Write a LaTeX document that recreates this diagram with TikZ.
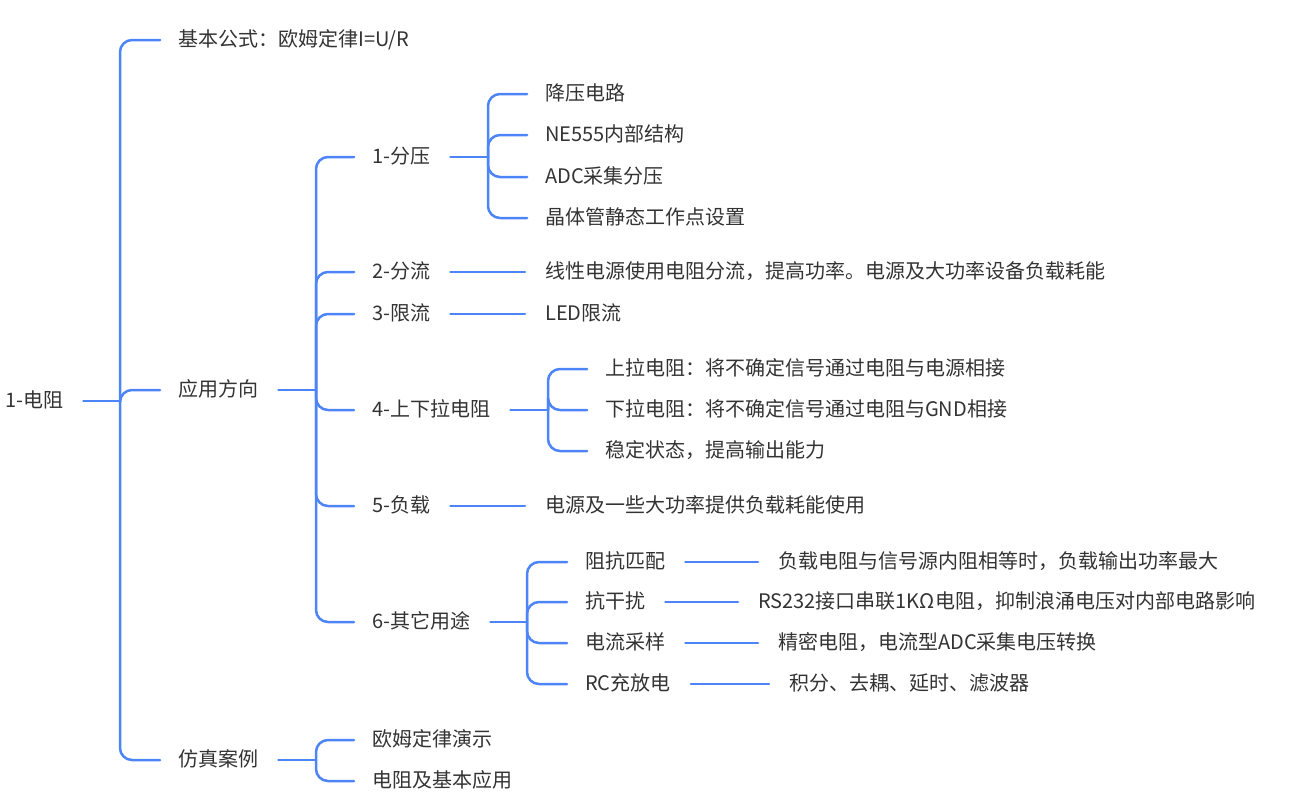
\documentclass[tikz,border=0pt]{standalone}
\usepackage{fontspec}
\usepackage{xcolor}
\usepackage{tikz}
\newfontfamily\cjk{Noto Sans CJK SC}
\definecolor{linkblue}{HTML}{4D84F7}
\definecolor{txtgray}{HTML}{333333}

\begin{document}
\begin{tikzpicture}[x=1pt, y=-1pt,
    txt/.style={anchor=west, inner sep=0pt, text=txtgray,
                font=\cjk\fontsize{20}{22}\selectfont,
                text height=16.6pt, text depth=3.4pt},
    br/.style={draw=linkblue, line width=2.5pt, rounded corners=12pt, line cap=round}
  ]
  \useasboundingbox (0,0) rectangle (1316,803);

  % Root and first level.
  \node[txt] (root)  at (5,401)   {1-电阻};
  \node[txt] (basic) at (178,40)  {基本公式：欧姆定律I=U/R};
  \node[txt] (app)   at (178,390) {应用方向};
  \node[txt] (sim)   at (178,760) {仿真案例};

  % Application branches.
  \node[txt] (fy) at (372,157) {1-分压};
  \node[txt] (fl) at (372,272) {2-分流};
  \node[txt] (xl) at (372,314) {3-限流};
  \node[txt] (sx) at (372,410) {4-上下拉电阻};
  \node[txt] (fz) at (372,506) {5-负载};
  \node[txt] (qt) at (372,622) {6-其它用途};

  % Simulation cases.
  \node[txt] (om) at (372,740) {欧姆定律演示};
  \node[txt] (jb) at (372,781) {电阻及基本应用};

  % Voltage divider.
  \node[txt] (a1) at (545,94)  {降压电路};
  \node[txt] (a2) at (545,135) {NE555内部结构};
  \node[txt] (a3) at (545,177) {ADC采集分压};
  \node[txt] (a4) at (545,218) {晶体管静态工作点设置};

  \node[txt] (flt) at (545,272) {线性电源使用电阻分流，提高功率。电源及大功率设备负载耗能};
  \node[txt] (xlt) at (545,314) {LED限流};

  % Pull-up / pull-down.
  \node[txt] (b1) at (605,369) {上拉电阻：将不确定信号通过电阻与电源相接};
  \node[txt] (b2) at (605,410) {下拉电阻：将不确定信号通过电阻与GND相接};
  \node[txt] (b3) at (605,451) {稳定状态，提高输出能力};

  \node[txt] (fzt) at (545,506) {电源及一些大功率提供负载耗能使用};

  % Other uses.
  \node[txt] (c1) at (585,562) {阻抗匹配};
  \node[txt] (c2) at (585,602) {抗干扰};
  \node[txt] (c3) at (585,643) {电流采样};
  \node[txt] (c4) at (585,684) {RC充放电};
  \node[txt] (d1) at (778,562) {负载电阻与信号源内阻相等时，负载输出功率最大};
  \node[txt] (d2) at (758,602) {RS232接口串联1KΩ电阻，抑制浪涌电压对内部电路影响};
  \node[txt] (d3) at (778,643) {精密电阻，电流型ADC采集电压转换};
  \node[txt] (d4) at (789,684) {积分、去耦、延时、滤波器};

  % Spines.
  \coordinate (s0) at (120,401);
  \coordinate (s1) at (316,390);
  \coordinate (s2) at (316,760);
  \coordinate (s3) at (488,157);
  \coordinate (s4) at (548,410);
  \coordinate (s5) at (527,622);

  \draw[br] ([xshift=20]root.east) -- (s0);
  \foreach \c in {basic,app,sim} \draw[br] (s0) |- ([xshift=-18]\c.west);
  \draw[br] ([xshift=20]app.east) -- (s1);
  \foreach \c in {fy,fl,xl,sx,fz,qt} \draw[br] (s1) |- ([xshift=-18]\c.west);
  \draw[br] ([xshift=20]sim.east) -- (s2);
  \foreach \c in {om,jb} \draw[br] (s2) |- ([xshift=-18]\c.west);
  \draw[br] ([xshift=20]fy.east) -- (s3);
  \foreach \c in {a1,a2,a3,a4} \draw[br] (s3) |- ([xshift=-18]\c.west);
  \draw[br] ([xshift=20]sx.east) -- (s4);
  \foreach \c in {b1,b2,b3} \draw[br] (s4) |- ([xshift=-18]\c.west);
  \draw[br] ([xshift=20]qt.east) -- (s5);
  \foreach \c in {c1,c2,c3,c4} \draw[br] (s5) |- ([xshift=-18]\c.west);

  % Straight links.
  \draw[br] ([xshift=20]fl.east) -- ([xshift=-20]flt.west);
  \draw[br] ([xshift=20]xl.east) -- ([xshift=-20]xlt.west);
  \draw[br] ([xshift=20]fz.east) -- ([xshift=-20]fzt.west);
  \draw[br] ([xshift=20]c1.east) -- ([xshift=-20]d1.west);
  \draw[br] ([xshift=20]c2.east) -- ([xshift=-20]d2.west);
  \draw[br] ([xshift=20]c3.east) -- ([xshift=-20]d3.west);
  \draw[br] ([xshift=20]c4.east) -- ([xshift=-20]d4.west);
\end{tikzpicture}
\end{document}
